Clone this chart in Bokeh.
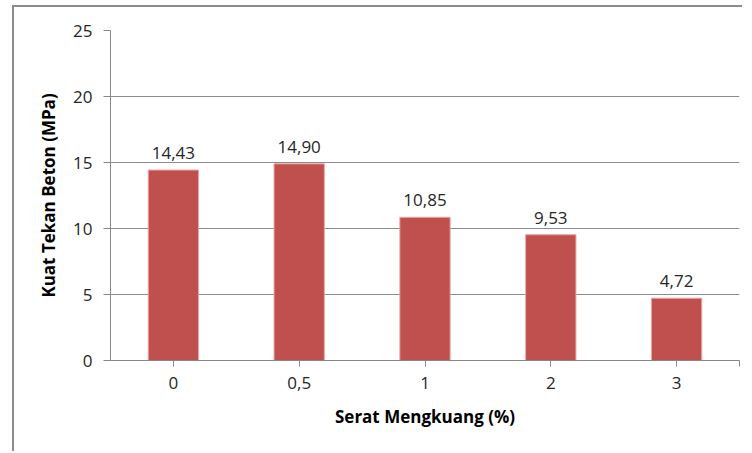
from bokeh.plotting import figure
from bokeh.models import ColumnDataSource, FixedTicker, Range1d, LabelSet
from bokeh.core.properties import value
from bokeh.embed import file_html
from bokeh.resources import INLINE

categories = ["0", "0,5", "1", "2", "3"]
values = [14.43, 14.90, 10.85, 9.53, 4.72]
value_labels = ["14,43", "14,90", "10,85", "9,53", "4,72"]
y_ticks = [0, 5, 10, 15, 20, 25]

xpos = [i + 0.5 for i in range(len(categories))]
src = ColumnDataSource(dict(x=xpos, top=values, lab=value_labels))

FONT = "Open Sans"
p = figure(width=730, height=446, output_backend="svg", toolbar_location=None,
           x_range=Range1d(0, 5), y_range=Range1d(0, 25),
           min_border_left=96, min_border_right=5, min_border_top=23, min_border_bottom=93)
p.styles = {"border-left": "2px solid #8c8c8c", "border-top": "2px solid #8c8c8c",
            "margin-left": "12px", "margin-top": "5px"}
p.outline_line_color = None
p.background_fill_color = "white"
p.border_fill_color = "white"

p.vbar(x="x", top="top", width=0.4, source=src, fill_color="#C0504D",
       line_color="#E6A9A7", line_width=1)

labels = LabelSet(x="x", y="top", text="lab", source=src, text_align="center",
                  text_baseline="bottom", y_offset=11, text_font_size="17px",
                  text_color="#262626", text_font=value(FONT))
p.add_layout(labels)

# axes
p.xaxis.ticker = FixedTicker(ticks=xpos + [5])
overrides = {x: c for x, c in zip(xpos, categories)}
overrides[5] = ""
p.xaxis.major_label_overrides = overrides
p.xaxis.minor_tick_line_color = None
p.xaxis.major_tick_in = 0
p.xaxis.major_tick_out = 6
p.xaxis.axis_line_color = "#888888"
p.xaxis.major_tick_line_color = "#888888"
p.xaxis.major_label_text_font_size = "17px"
p.xaxis.major_label_text_font = FONT
p.xaxis.major_label_text_color = "#262626"
p.xaxis.major_label_standoff = 10
p.xaxis.axis_label = "Serat Mengkuang (%)"
p.xaxis.axis_label_text_font = FONT
p.xaxis.axis_label_text_font_size = "17px"
p.xaxis.axis_label_text_font_style = "bold"
p.xaxis.axis_label_text_color = "#000000"
p.xaxis.axis_label_standoff = 13

p.yaxis.ticker = FixedTicker(ticks=y_ticks)
p.yaxis.minor_tick_line_color = None
p.yaxis.major_tick_in = 0
p.yaxis.major_tick_out = 7
p.yaxis.axis_line_color = "#888888"
p.yaxis.major_tick_line_color = "#888888"
p.yaxis.major_label_text_font_size = "17px"
p.yaxis.major_label_text_font = FONT
p.yaxis.major_label_text_color = "#262626"
p.yaxis.major_label_standoff = 11
p.yaxis.axis_label = "Kuat Tekan Beton (MPa)"
p.yaxis.axis_label_text_font = FONT
p.yaxis.axis_label_text_font_size = "17px"
p.yaxis.axis_label_text_font_style = "bold"
p.yaxis.axis_label_text_color = "#000000"
p.yaxis.axis_label_standoff = 10

p.xgrid.grid_line_color = None
p.ygrid.ticker = FixedTicker(ticks=y_ticks)
p.ygrid.grid_line_color = "#8c8c8c"
p.ygrid.grid_line_width = 1

open("out.html", "w").write(file_html(p, INLINE))
